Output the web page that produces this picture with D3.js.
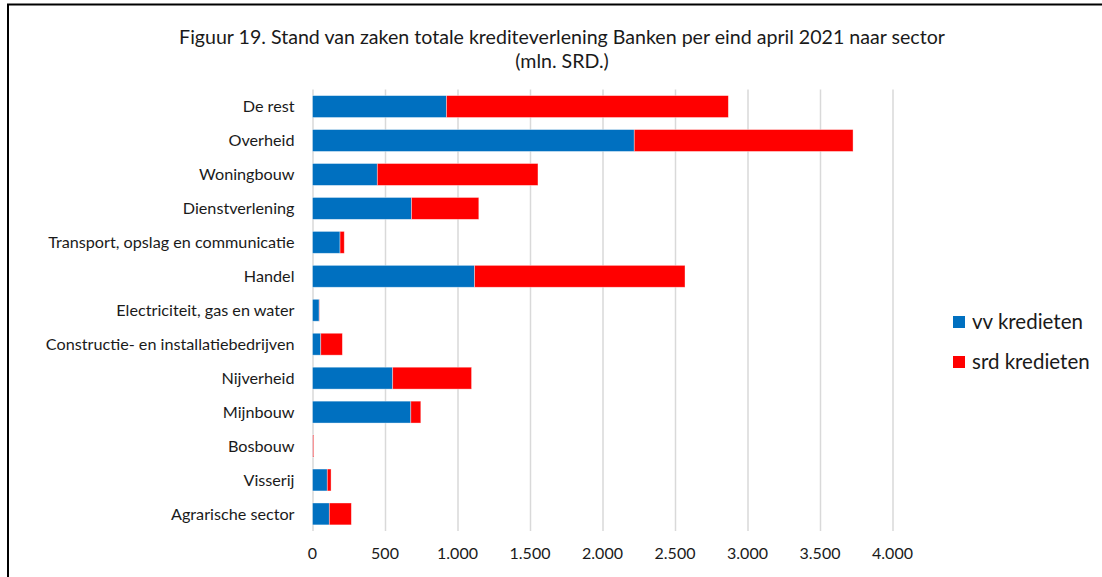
<!DOCTYPE html>
<html>
<head>
<meta charset="utf-8">
<script src="https://cdn.jsdelivr.net/npm/d3@7"></script>
<style>
  body { margin: 0; background: #fff; }
  .chart text { font-family: Lato, "Liberation Sans", sans-serif; fill: #1a1a1a; }
  .grid line { stroke: #d9d9d9; stroke-width: 1.5; }
  .grid path { display: none; }
</style>
</head>
<body>
<div class="chart"></div>
<script>
// Data (mln. SRD), top to bottom as in the figure
var sectors = [
  "De rest",
  "Overheid",
  "Woningbouw",
  "Dienstverlening",
  "Transport, opslag en communicatie",
  "Handel",
  "Electriciteit, gas en water",
  "Constructie- en installatiebedrijven",
  "Nijverheid",
  "Mijnbouw",
  "Bosbouw",
  "Visserij",
  "Agrarische sector"
];
var vvKredieten  = [924, 2219, 447, 683, 190, 1118, 46, 57, 553, 678, 2, 102, 116];
var srdKredieten = [1944, 1509, 1108, 464, 29, 1451, 2, 149, 544, 69, 6, 26, 152];
var seriesNames = ["vv kredieten", "srd kredieten"];
var seriesColors = ["#0070c0", "#ff0000"];
var xTicks = [0, 500, 1000, 1500, 2000, 2500, 3000, 3500, 4000];

var svgWidth = 1102;
var svgHeight = 577;

var margin = { top: 89.5, right: 209.5, bottom: 46, left: 312.5 };
var width = svgWidth - margin.left - margin.right;
var height = svgHeight - margin.top - margin.bottom;

var svg = d3.select(".chart")
  .append("svg")
  .attr("width", svgWidth)
  .attr("height", svgHeight);

// outer frame (top and left edge visible)
svg.append("path")
  .attr("d", "M8,577 V4.5 H1102")
  .attr("fill", "none")
  .attr("stroke", "#000")
  .attr("stroke-width", 2);

var chartGroup = svg.append("g")
  .attr("transform", `translate(${margin.left}, ${margin.top})`);

// table for the stack
var table = sectors.map(function (s, i) {
  return { sector: s, "vv kredieten": vvKredieten[i], "srd kredieten": srdKredieten[i] };
});
var stacked = d3.stack().keys(seriesNames)(table);

var xScale = d3.scaleLinear()
  .domain([0, 4000])
  .range([0, width]);

var yScale = d3.scaleBand()
  .domain(sectors)
  .range([0, height])
  .paddingInner(0.355)
  .paddingOuter(0.18);

var fmt = d3.formatLocale({ decimal: ",", thousands: ".", grouping: [3], currency: ["", ""] }).format(",");

// gridlines
chartGroup.append("g")
  .attr("class", "grid")
  .call(d3.axisBottom(xScale).tickValues(xTicks).tickSize(height).tickFormat(""));

// x tick labels
chartGroup.append("g")
  .selectAll("text")
  .data(xTicks)
  .enter()
  .append("text")
  .attr("x", d => xScale(d))
  .attr("y", height + 28)
  .attr("text-anchor", "middle")
  .style("font-size", "16px")
  .text(d => fmt(d));

// category labels
chartGroup.append("g")
  .selectAll("text")
  .data(sectors)
  .enter()
  .append("text")
  .attr("x", -18)
  .attr("y", d => yScale(d) + yScale.bandwidth() / 2)
  .attr("dy", "0.35em")
  .attr("text-anchor", "end")
  .style("font-size", "16.2px")
  .text(d => d);

// stacked bars
var layers = chartGroup.selectAll(".layer")
  .data(stacked)
  .enter()
  .append("g")
  .attr("class", "layer")
  .attr("fill", (d, i) => seriesColors[i]);

layers.selectAll("rect")
  .data(d => d)
  .enter()
  .append("rect")
  .attr("x", d => xScale(d[0]))
  .attr("y", d => yScale(d.data.sector))
  .attr("width", d => Math.max(0, xScale(d[1]) - xScale(d[0])))
  .attr("height", yScale.bandwidth())
  .attr("stroke", "#fff")
  .attr("stroke-opacity", 0.5)
  .attr("stroke-width", 0.75);

// title
svg.append("text")
  .attr("x", 562)
  .attr("y", 44)
  .attr("text-anchor", "middle")
  .style("font-size", "19.6px")
  .text("Figuur 19. Stand van zaken totale krediteverlening Banken per eind april 2021 naar sector");

svg.append("text")
  .attr("x", 562)
  .attr("y", 68)
  .attr("text-anchor", "middle")
  .style("font-size", "19.6px")
  .text("(mln. SRD.)");

// legend
var legend = svg.append("g")
  .attr("transform", "translate(953, 316)")
  .selectAll("g")
  .data(seriesNames)
  .enter()
  .append("g")
  .attr("transform", (d, i) => `translate(0, ${i * 40})`);

legend.append("rect")
  .attr("width", 12)
  .attr("height", 12)
  .attr("fill", (d, i) => seriesColors[i]);

legend.append("text")
  .attr("x", 19)
  .attr("y", 6)
  .attr("dy", "0.35em")
  .style("font-size", "20.5px")
  .text(d => d);
</script>
</body>
</html>
